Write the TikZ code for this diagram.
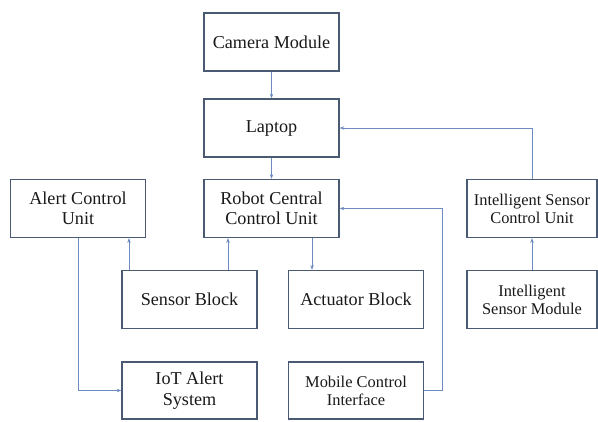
\documentclass[tikz,border=0pt]{standalone}
\usepackage{fontspec}
\setmainfont{Liberation Serif}
\usetikzlibrary{arrows.meta}
\definecolor{boxc}{HTML}{4A5A72}
\definecolor{linec}{HTML}{6F8CC0}
\tikzset{blk/.style={rectangle,draw=boxc,line width=1.1pt,minimum width=4.05cm,minimum height=1.74cm,inner sep=0pt,align=center,text=black!90,font=\fontsize{15.5}{17.5}\selectfont}}
\tikzset{smallblk/.style={blk,font=\fontsize{14}{15.5}\selectfont}}
\tikzset{conn/.style={->,draw=linec,line width=0.6pt}}

\begin{document}
\begin{tikzpicture}[x=0.03cm,y=0.03cm,>={Stealth[length=4pt,width=3pt]}]
    \useasboundingbox (0,0) rectangle (598,421);
    \node[blk] (cam)at (271.5,379) {Camera Module};
    \node[blk] (lap)at (271.5,293) {Laptop};
    \node[blk] (rcu)at (271.5,212.5) {Robot Central\\Control Unit};
    \node[blk] (acu)at (78,212.5) {Alert Control\\Unit};
    \node[smallblk,minimum width=3.9cm] (iscu)at (532,212.5) {Intelligent Sensor\\Control Unit};
    \node[blk] (sb)at (189.5,121.5) {Sensor Block};
    \node[blk] (ab)at (356,121.5) {Actuator Block};
    \node[smallblk,minimum width=3.9cm] (ism)at (532,121.5) {Intelligent\\Sensor Module};
    \node[blk,minimum height=1.71cm] (iot)at (189.5,30.5) {IoT Alert\\System};
    \node[smallblk,minimum height=1.71cm] (mci)at (356,30.5) {Mobile Control\\Interface};
    \draw [conn] (cam) to (lap);
    \draw [conn] (lap) to (rcu);
    \draw [conn] (iscu.north) |- (lap.east);
    \draw [conn] (ism) to (iscu);
    \draw [conn] (mci.east) -- ++(18,0) |- (rcu.east);
    \draw [conn] ([xshift=1.215cm]rcu.south) -- ([xshift=1.215cm]rcu.south |- ab.north);
    \draw [conn] ([xshift=1.155cm]sb.north) -- ([xshift=1.155cm]sb.north |- rcu.south);
    \draw [conn] ([xshift=-1.815cm]sb.north) -- ([xshift=-1.815cm]sb.north |- acu.south);
    \draw [conn] (acu.south) |- (iot.west);
\end{tikzpicture}
\end{document}
